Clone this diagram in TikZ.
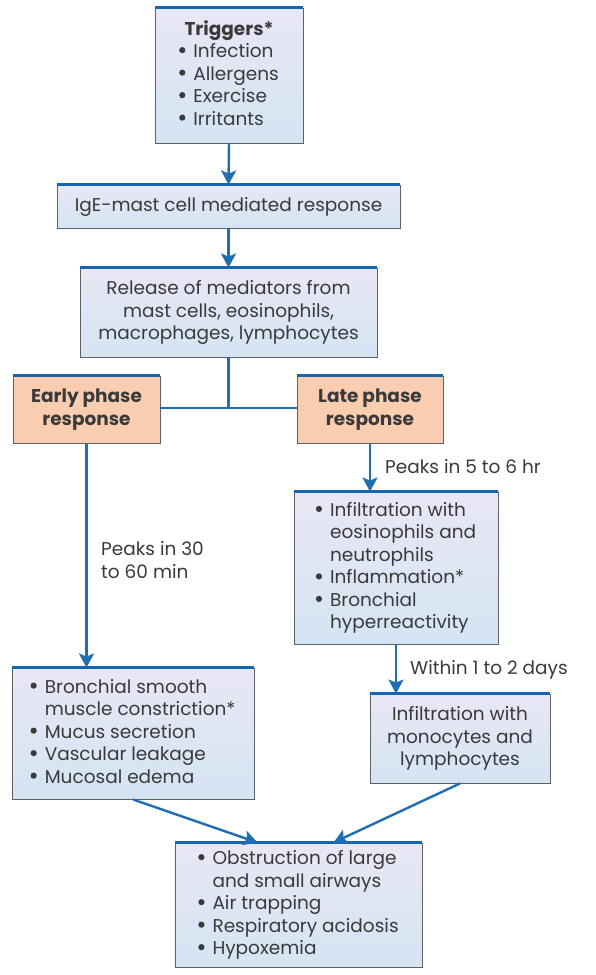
\documentclass[tikz,border=0pt]{standalone}
\usepackage{fontspec}
\setmainfont{Poppins}
\usetikzlibrary{arrows.meta,calc}
\definecolor{txt}{HTML}{3A3A3A}
\definecolor{bord}{HTML}{5E6066}
\definecolor{arr}{HTML}{1F6DB3}
\definecolor{topblue}{HTML}{1565B0}
\definecolor{boxtop}{HTML}{E9E7F5}
\definecolor{boxbot}{HTML}{D4E4F3}
\definecolor{peach}{HTML}{F9CDB0}
\newcommand{\bx}{\raisebox{0.23em}{\tikz\fill[txt] (0,0) circle (3.1pt);}}
\tikzset{
  bluebox/.style={draw=bord, line width=0.9pt, top color=boxtop, bottom color=boxbot, inner sep=0pt, text=txt, align=center},
  peachbox/.style={draw=bord, line width=0.9pt, fill=peach, inner sep=0pt, text=txt, align=center},
  topline/.style={topblue, line width=3.5pt},
  flow/.style={arr, line width=2.4pt, -{Stealth[length=14pt,width=15pt,inset=3pt]}},
  plain/.style={arr, line width=2.4pt},
  lbl/.style={text=txt, align=left, inner sep=0pt},
}
\begin{document}
\begin{tikzpicture}[x=1pt,y=-1pt, font=\fontsize{18.5}{22.5}\selectfont]
\useasboundingbox[fill=white] (0,0) rectangle (595,975);
\def\arraystretch{1}
% nodes
\node[bluebox, minimum width=148pt, minimum height=135pt] (trig) at (229,75.5)
  {\begin{tabular}{@{}l@{\hspace{8pt}}l@{}}\multicolumn{2}{@{}c@{}}{\bfseries Triggers*}\\ \bx & Infection\\ \bx & Allergens\\ \bx & Exercise\\ \bx & Irritants\end{tabular}};
\node[bluebox, minimum width=343pt, minimum height=43pt] (ige) at (228.5,206.5) {IgE-mast cell mediated response};
\node[bluebox, minimum width=297pt, minimum height=89pt] (rel) at (228.5,312.5)
  {\begin{tabular}{@{}c@{}}Release of mediators from\\ mast cells, eosinophils,\\ macrophages, lymphocytes\end{tabular}};
\node[peachbox, minimum width=147pt, minimum height=67pt] (early) at (86.5,409.5)
  {\begin{tabular}{@{}c@{}}\bfseries Early phase\\ \bfseries response\end{tabular}};
\node[peachbox, minimum width=146pt, minimum height=67pt] (late) at (370,409.5)
  {\begin{tabular}{@{}c@{}}\bfseries Late phase\\ \bfseries response\end{tabular}};
\node[bluebox, minimum width=204pt, minimum height=152pt] (inf) at (396,568)
  {\begin{tabular}{@{}l@{\hspace{8pt}}l@{}}\bx & Infiltration with\\ & eosinophils and\\ & neutrophils\\ \bx & Inflammation*\\ \bx & Bronchial\\ & hyperreactivity\end{tabular}};
\node[bluebox, minimum width=180pt, minimum height=89pt] (mono) at (460,738.5)
  {\begin{tabular}{@{}c@{}}Infiltration with\\ monocytes and\\ lymphocytes\end{tabular}};
\node[bluebox, minimum width=242pt, minimum height=131pt] (sm) at (133,733.5)
  {\begin{tabular}{@{}l@{\hspace{8pt}}l@{}}\bx & Bronchial smooth\\ & muscle constriction*\\ \bx & Mucus secretion\\ \bx & Vascular leakage\\ \bx & Mucosal edema\end{tabular}};
\node[bluebox, minimum width=247pt, minimum height=124pt] (fin) at (298.5,905)
  {\begin{tabular}{@{}l@{\hspace{8pt}}l@{}}\bx & Obstruction of large\\ & and small airways\\ \bx & Air trapping\\ \bx & Respiratory acidosis\\ \bx & Hypoxemia\end{tabular}};
% top lines
\foreach \n in {trig,ige,rel,early,late,inf,mono,sm,fin}
  \draw[topline] (\n.north west) -- (\n.north east);
% labels
\node[lbl, anchor=west] (l1) at (101,560) {Peaks in 30\\to 60 min};
\node[lbl, anchor=west] (l2) at (385,467) {Peaks in 5 to 6 hr};
\node[lbl, anchor=west] (l3) at (410,670) {Within 1 to 2 days};
% connectors
\coordinate (j) at (rel.south |- 0,408);
\draw[flow] (trig.south) -- (ige.north);
\draw[flow] (ige.south) -- (rel.north);
\draw[plain] (rel.south) -- (j);
\draw[plain] (early.east |- j) -- (late.west |- j);
\draw[flow] (early.south) -- (early.south |- sm.north);
\draw[flow] (late.south) -- (late.south |- inf.north);
\draw[flow] (inf.south) -- (inf.south |- mono.north);
\coordinate (fa) at ($(fin.north)+(-41,0)$);
\coordinate (fb) at ($(fin.north)+(35,0)$);
\draw[flow] (sm.south) -- (fa);
\draw[flow] (mono.south) -- (fb);
\end{tikzpicture}
\end{document}
